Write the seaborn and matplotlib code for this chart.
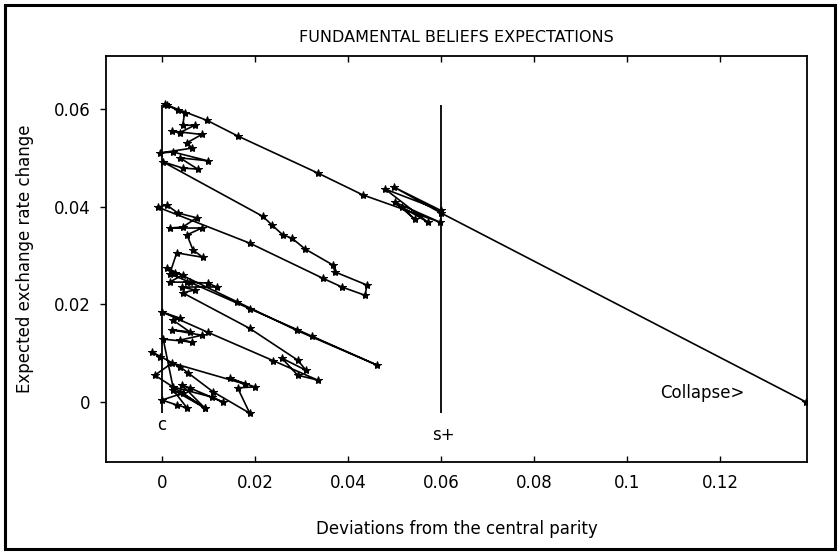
import matplotlib
matplotlib.use("Agg")
import matplotlib.pyplot as plt
import seaborn as sns
import pandas as pd

# Simulated path: deviation from central parity vs expected exchange rate change
deviation = [
    # lowest band
    -0.0004, -0.0022, 0.0039, 0.0056, 0.0110, 0.0189, 0.0163, 0.0200, 0.0146, 0.0178,
    0.0022, -0.0015, 0.0040, 0.0092, 0.0045, 0.0000, 0.0032, 0.0054, 0.0024, 0.0092,
    0.0043, 0.0060, 0.0131, 0.0108, 0.0024, 0.0003,
    # band near 0.015
    0.0065, 0.0039, 0.0086, 0.0022, 0.0060, 0.0024, 0.0039, 0.0000, 0.0099, 0.0239,
    0.0335, 0.0292, 0.0258, 0.0310, 0.0292, 0.0189,
    # band near 0.025
    0.0045, 0.0071, 0.0043, 0.0118, 0.0099, 0.0054, 0.0017, 0.0045, 0.0028, 0.0011,
    0.0161, 0.0290, 0.0462, 0.0323, 0.0190, 0.0060, 0.0017,
    # band near 0.035
    0.0032, 0.0088, 0.0067, 0.0054, 0.0086, 0.0017, 0.0045, 0.0075, 0.0034, 0.0011,
    -0.0009, 0.0189, 0.0346, 0.0387, 0.0437, 0.0441, 0.0372, 0.0368, 0.0308, 0.0280,
    0.0260, 0.0237, 0.0217, 0.0002,
    # band near 0.05
    0.0045, 0.0077, 0.0039, 0.0099, 0.0024, -0.0004, 0.0065, 0.0054, 0.0086, 0.0022,
    0.0039, 0.0071, 0.0045, 0.0049, 0.0034, 0.0011, 0.0006,
    # run towards the band edge and the collapse
    0.0097, 0.0163, 0.0335, 0.0432, 0.0598, 0.0501, 0.0544, 0.0516, 0.0572, 0.0480,
    0.0600, 0.0499, 0.0600, 0.1385,
]
expected_change = [
    0.0091, 0.0102, 0.0071, 0.0059, 0.0020, -0.0024, 0.0028, 0.0030, 0.0048, 0.0036,
    0.0079, 0.0054, 0.0020, -0.0013, 0.0017, 0.0003, -0.0007, -0.0013, 0.0024, -0.0013,
    0.0034, 0.0028, -0.0001, 0.0009, 0.0030, 0.0128,
    0.0122, 0.0126, 0.0136, 0.0147, 0.0143, 0.0167, 0.0171, 0.0184, 0.0142, 0.0084,
    0.0044, 0.0054, 0.0089, 0.0064, 0.0085, 0.0150,
    0.0223, 0.0229, 0.0235, 0.0235, 0.0243, 0.0245, 0.0245, 0.0260, 0.0264, 0.0274,
    0.0205, 0.0146, 0.0075, 0.0134, 0.0190, 0.0245, 0.0262,
    0.0305, 0.0296, 0.0311, 0.0342, 0.0356, 0.0356, 0.0358, 0.0377, 0.0387, 0.0403,
    0.0399, 0.0325, 0.0253, 0.0235, 0.0218, 0.0239, 0.0266, 0.0280, 0.0313, 0.0335,
    0.0342, 0.0362, 0.0380, 0.0492,
    0.0479, 0.0477, 0.0500, 0.0494, 0.0512, 0.0510, 0.0520, 0.0531, 0.0548, 0.0555,
    0.0552, 0.0567, 0.0567, 0.0592, 0.0598, 0.0608, 0.0610,
    0.0577, 0.0545, 0.0469, 0.0424, 0.0368, 0.0409, 0.0374, 0.0399, 0.0368, 0.0436,
    0.0392, 0.0440, 0.0387, -0.0001,
]

x_ticks = [0, 0.02, 0.04, 0.06, 0.08, 0.1, 0.12]
x_tick_labels = ["0", "0.02", "0.04", "0.06", "0.08", "0.1", "0.12"]
y_ticks = [0, 0.02, 0.04, 0.06]
y_tick_labels = ["0", "0.02", "0.04", "0.06"]

central_parity = 0.0
upper_band = 0.06
marker_top = 0.0608
marker_bottom = -0.0024

sns.set_theme(style="ticks")
plt.rcParams["font.family"] = ["DejaVu Sans"]

fig = plt.figure(figsize=(8.4, 5.53), dpi=100)
ax = fig.add_axes([0.1262, 0.1651, 0.8345, 0.7336])

df = pd.DataFrame({"dev": deviation, "exp": expected_change})
sns.lineplot(data=df, x="dev", y="exp", sort=False, estimator=None, color="black",
             linewidth=1.2, marker="*", markersize=6, markeredgecolor="black",
             markerfacecolor="black", ax=ax)

ax.vlines([central_parity, upper_band], marker_bottom, marker_top, color="black", linewidth=1.3)

ax.set_xlim(-0.0120, 0.1387)
ax.set_ylim(-0.01235, 0.0709)
ax.set_xticks(x_ticks)
ax.set_xticklabels(x_tick_labels)
ax.set_yticks(y_ticks)
ax.set_yticklabels(y_tick_labels)
ax.tick_params(axis="both", which="both", direction="out", length=4, width=1,
               colors="black", labelsize=12, pad=7)
ax.tick_params(axis="x", top=True, pad=9)
ax.tick_params(axis="x", which="both", direction="in")
for side in ["left", "right", "top", "bottom"]:
    ax.spines[side].set_color("black")
    ax.spines[side].set_linewidth(1.3)

ax.set_xlabel("Deviations from the central parity", fontsize=12, labelpad=20, color="black")
ax.set_ylabel("Expected exchange rate change", fontsize=12, labelpad=14, color="black")
ax.set_title("FUNDAMENTAL BELIEFS EXPECTATIONS", fontsize=11.5, pad=10, color="black")

ax.text(central_parity, -0.0048, "c", ha="center", va="center", fontsize=12, color="black")
ax.text(upper_band + 0.0006, -0.0069, "s+", ha="center", va="center", fontsize=12, color="black")
ax.text(0.1071, 0.0017, "Collapse>", ha="left", va="center", fontsize=12, color="black")

# page frame
fig.patches.append(plt.Rectangle((0.006, 0.008), 0.988, 0.983, transform=fig.transFigure,
                                 fill=False, edgecolor="black", linewidth=2.2))

fig.savefig("out.png", dpi=100, facecolor="white")
